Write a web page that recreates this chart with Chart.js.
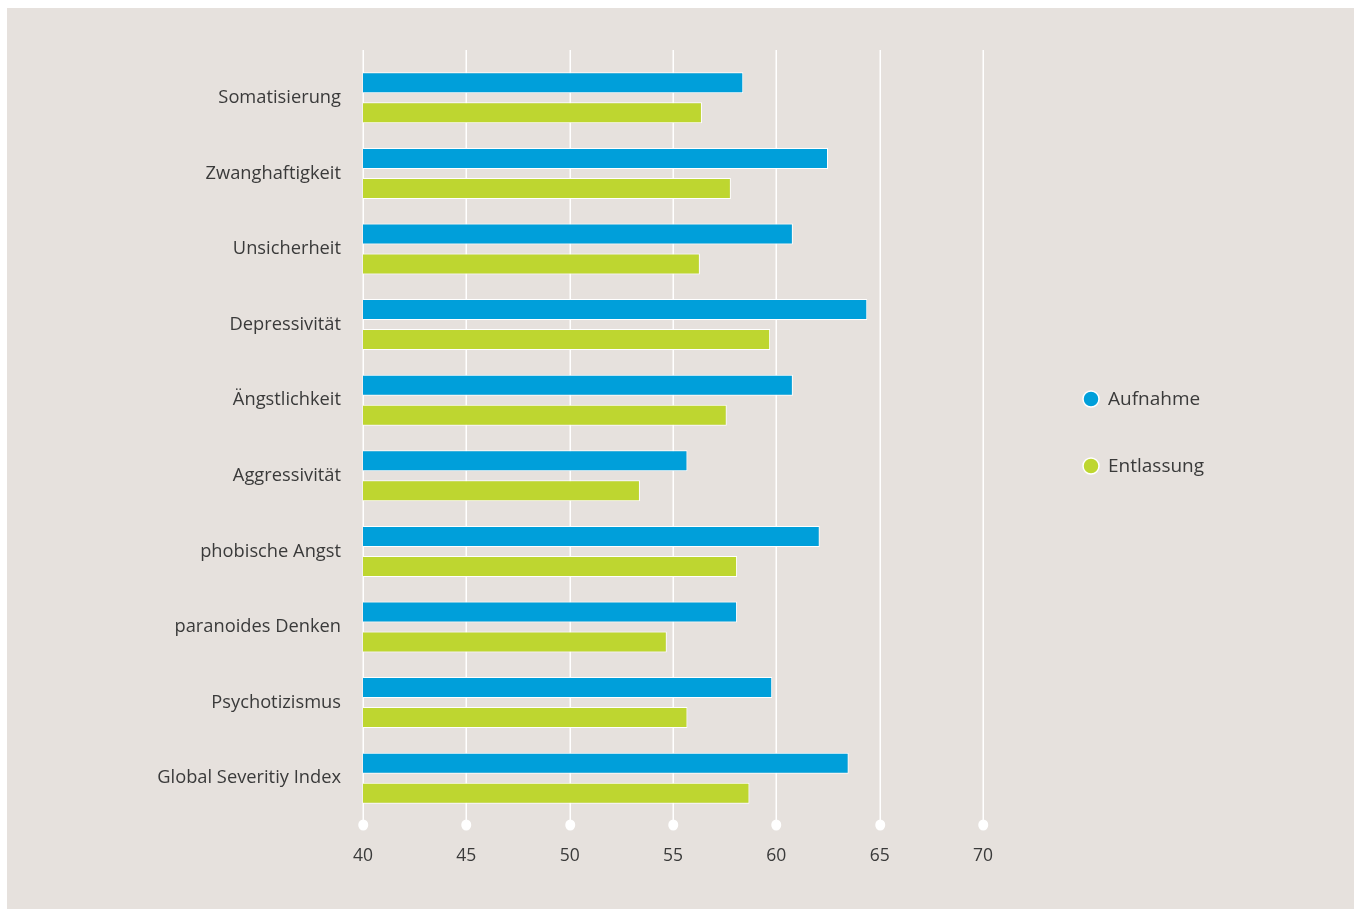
<!DOCTYPE html>
<html lang="de">
<head>
<meta charset="utf-8">
<title>SCL-90-R Aufnahme / Entlassung</title>
<script src="https://cdn.jsdelivr.net/npm/chart.js@4.4.1/dist/chart.umd.min.js"></script>
<style>
  html, body { margin: 0; padding: 0; background: #ffffff; }
  .panel { position: absolute; left: 7px; top: 8px; width: 1347px; height: 901px; background: #e6e1dd; }
  .wrap { position: absolute; left: 0; top: 0; width: 1357px; height: 909px; }
</style>
</head>
<body>
<div class="panel"></div>
<div class="wrap"><canvas id="chart" width="1357" height="909"></canvas></div>
<script>
// scales and values
const categories = [
  'Somatisierung',
  'Zwanghaftigkeit',
  'Unsicherheit',
  'Depressivität',
  'Ängstlichkeit',
  'Aggressivität',
  'phobische Angst',
  'paranoides Denken',
  'Psychotizismus',
  'Global Severitiy Index'
];
const aufnahme   = [58.4, 62.5, 60.8, 64.4, 60.8, 55.7, 62.1, 58.1, 59.8, 63.5];
const entlassung = [56.4, 57.8, 56.3, 59.7, 57.6, 53.4, 58.1, 54.7, 55.7, 58.7];
const xTicks = [40, 45, 50, 55, 60, 65, 70];

const textColor = '#3a3a3a';
const font = "'Open Sans', 'Noto Sans', sans-serif";

// white vertical lines with a dot at the foot, drawn behind the bars
const gridDots = {
  id: 'gridDots',
  beforeDatasetsDraw(chart) {
    const { ctx, chartArea, scales } = chart;
    const x = scales.x;
    ctx.save();
    ctx.strokeStyle = '#ffffff';
    ctx.fillStyle = '#ffffff';
    ctx.lineWidth = 1.5;
    x.ticks.forEach(t => {
      const px = Math.round(x.getPixelForValue(t.value)) + 0.25;
      ctx.beginPath();
      ctx.moveTo(px, chartArea.top - 10);
      ctx.lineTo(px, chartArea.bottom + 9);
      ctx.stroke();
      ctx.beginPath();
      ctx.ellipse(px, chartArea.bottom + 9, 5, 5.5, 0, 0, Math.PI * 2);
      ctx.fill();
    });
    ctx.restore();
  }
};

// legend on the right side, from the datasets
const sideLegend = {
  id: 'sideLegend',
  afterDraw(chart) {
    const { ctx } = chart;
    ctx.save();
    ctx.font = '19px ' + font;
    ctx.textBaseline = 'middle';
    chart.data.datasets.forEach((ds, i) => {
      const cy = 399 + i * 67;
      ctx.beginPath();
      ctx.arc(1091, cy, 8, 0, Math.PI * 2);
      ctx.fillStyle = ds.backgroundColor;
      ctx.fill();
      ctx.lineWidth = 1.5;
      ctx.strokeStyle = '#ffffff';
      ctx.stroke();
      ctx.fillStyle = textColor;
      ctx.fillText(ds.label, 1108, cy + 1);
    });
    ctx.restore();
  }
};

new Chart(document.getElementById('chart').getContext('2d'), {
  type: 'bar',
  data: {
    labels: categories,
    datasets: [
      {
        label: 'Aufnahme',
        data: aufnahme,
        backgroundColor: '#009fda',
        borderColor: '#ffffff',
        borderWidth: 1,
        borderSkipped: false
      },
      {
        label: 'Entlassung',
        data: entlassung,
        backgroundColor: '#bed630',
        borderColor: '#ffffff',
        borderWidth: 1,
        borderSkipped: false
      }
    ]
  },
  options: {
    indexAxis: 'y',
    responsive: false,
    animation: false,
    barPercentage: 0.7,
    categoryPercentage: 0.793,
    layout: {
      padding: { left: 60, right: 374, top: 60, bottom: 33 }
    },
    scales: {
      x: {
        type: 'linear',
        min: 40,
        max: 70,
        afterBuildTicks(scale) {
          scale.ticks = xTicks.map(v => ({ value: v }));
        },
        afterFit(scale) { scale.height = 60; },
        grid: { display: false, drawTicks: false },
        border: { display: false },
        ticks: {
          color: textColor,
          font: { family: font, size: 17.5 },
          padding: 30
        }
      },
      y: {
        afterFit(scale) { scale.width = 303; },
        grid: { display: false, drawTicks: false },
        border: { display: false },
        ticks: {
          color: textColor,
          font: { family: font, size: 18.3 },
          padding: 22
        }
      }
    },
    plugins: {
      legend: { display: false },
      tooltip: { enabled: false }
    }
  },
  plugins: [gridDots, sideLegend]
});
</script>
</body>
</html>
